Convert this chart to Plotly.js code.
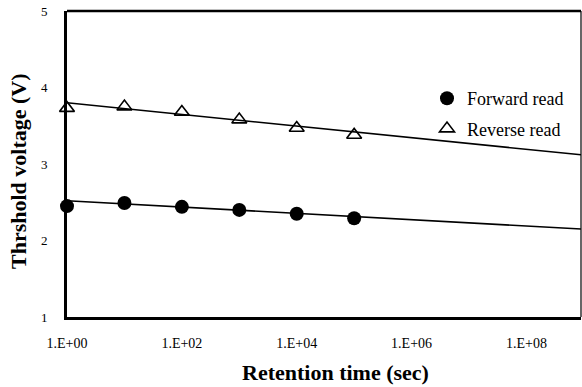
<!DOCTYPE html>
<html>
<head>
<meta charset="utf-8">
<script src="https://cdn.plot.ly/plotly-3.0.1.min.js"></script>
<style>html,body{margin:0;padding:0;background:#fff;}#chart{width:582px;height:387px;}</style>
</head>
<body>
<div id="chart"></div>
<script>
// Retention time (sec)
const retentionTime = [1, 10, 100, 1000, 10000, 100000];
// Threshold voltage (V)
const forwardRead = [2.45, 2.49, 2.44, 2.40, 2.35, 2.29];
const reverseRead = [3.73, 3.75, 3.68, 3.58, 3.47, 3.38];
// Trend lines (at both ends)
const trendTime = [1, 8.9e8];
const forwardTrend = [2.52, 2.15];
const reverseTrend = [3.80, 3.12];
// Tick labels
const xTickVals = [1, 100, 10000, 1000000, 100000000];
const xTickText = ['1.E+00', '1.E+02', '1.E+04', '1.E+06', '1.E+08'];
const yTickVals = [1, 2, 3, 4, 5];
const yTickText = ['1', '2', '3', '4', '5'];
const xTitle = 'Retention time (sec)';
const yTitle = 'Thrshold voltage (V)';

const serif = 'Liberation Serif';

const traces = [
  {x: trendTime, y: forwardTrend, mode: 'lines', line: {color: '#000', width: 1.6}, showlegend: false, hoverinfo: 'skip'},
  {x: trendTime, y: reverseTrend, mode: 'lines', line: {color: '#000', width: 1.6}, showlegend: false, hoverinfo: 'skip'},
  {x: retentionTime, y: forwardRead, mode: 'markers', name: 'Forward read', legendgroup: 'f',
   marker: {symbol: 'circle', size: 14, color: '#000'}, cliponaxis: false},
  {x: retentionTime, y: reverseRead, mode: 'markers', name: 'Reverse read', legendgroup: 'r',
   marker: {symbol: 'triangle-up-open', size: 13, color: '#000', line: {width: 1.6, color: '#000'}}, cliponaxis: false}
];

const layout = {
  width: 582, height: 387,
  margin: {l: 67, r: 1, t: 11, b: 70},
  paper_bgcolor: '#fff', plot_bgcolor: '#fff',
  font: {family: serif, color: '#000', size: 12},
  showlegend: true,
  legend: {x: (427 - 67) / 514, y: (317 - 80) / 306, xanchor: 'left', yanchor: 'top', bgcolor: 'rgba(255,255,255,0)',
           traceorder: 'grouped', tracegroupgap: 4,
           font: {family: serif, size: 18, color: '#000'}, itemwidth: 30},
  xaxis: {type: 'log', range: [0, 8.95], tickvals: xTickVals, ticktext: xTickText,
          showgrid: false, zeroline: false, showline: true, linecolor: '#000', linewidth: 3,
          ticks: '', ticklabelstandoff: 11, tickfont: {family: serif, size: 14, color: '#000'}},
  yaxis: {range: [1, 5], tickvals: yTickVals, ticktext: yTickText, showgrid: false, zeroline: false,
          showline: true, linecolor: '#000', linewidth: 3,
          ticks: '', ticklabelstandoff: 14, tickfont: {family: serif, size: 13, color: '#000'}},
  annotations: [
    {text: '<b>' + xTitle + '</b>', xref: 'paper', yref: 'paper', x: (335 - 67) / 514, y: (317 - 372) / 306,
     xanchor: 'center', yanchor: 'middle', showarrow: false, font: {family: serif, size: 22, color: '#000'}},
    {text: '<b>' + yTitle + '</b>', xref: 'paper', yref: 'paper', x: (19 - 67) / 514, y: (317 - 171) / 306,
     xanchor: 'center', yanchor: 'middle', textangle: -90, showarrow: false, font: {family: serif, size: 22, color: '#000'}}
  ],
  shapes: [
    {type: 'line', xref: 'paper', yref: 'paper', x0: 0, x1: 1, y0: 1, y1: 1, line: {color: '#000', width: 2.5}},
    {type: 'line', xref: 'paper', yref: 'paper', x0: 1, x1: 1, y0: 0, y1: 1, line: {color: '#000', width: 1.2}}
  ]
};

Plotly.newPlot('chart', traces, layout, {displayModeBar: false, staticPlot: true});
</script>
</body>
</html>
